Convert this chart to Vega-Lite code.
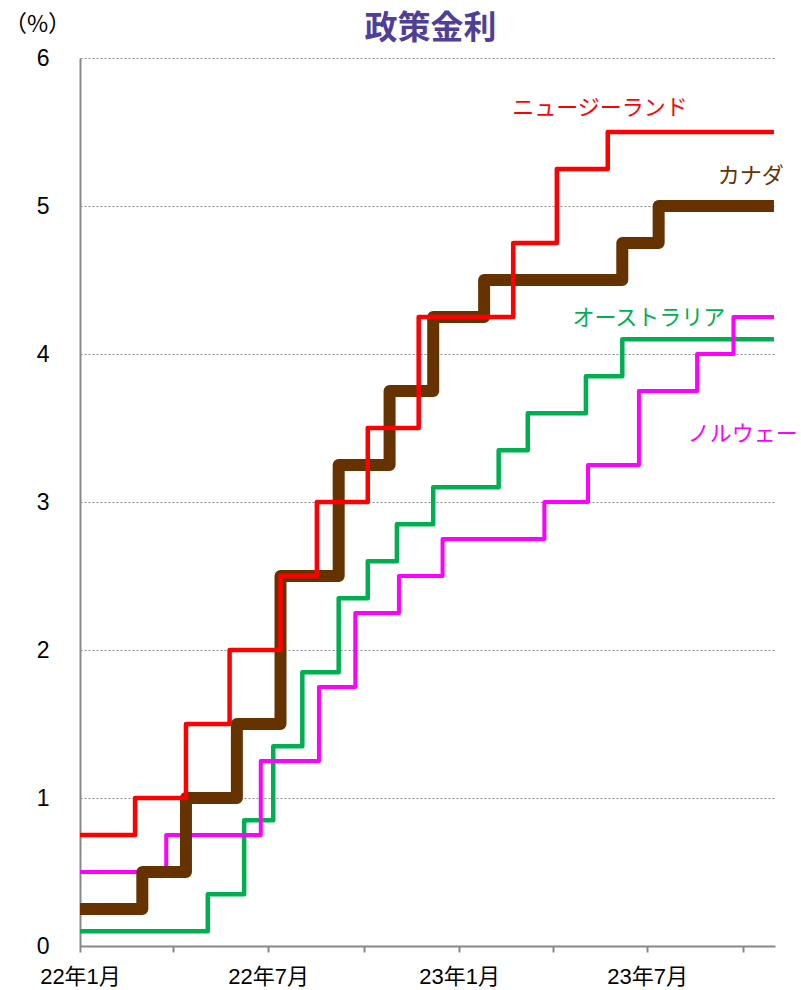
{
  "$schema": "https://vega.github.io/schema/vega-lite/v6.json",
  "width": 695,
  "height": 888,
  "autosize": "none",
  "padding": {"left": 80, "top": 58, "right": 26, "bottom": 44},
  "background": "white",
  "config": {"view": {"stroke": null}, "font": "Liberation Sans, Noto Sans CJK JP"},
  "title": {"text": "政策金利", "orient": "top", "anchor": "middle", "frame": "group", "offset": -33, "dx": 3, "fontSize": 33, "fontWeight": "bold", "color": "#4F3F9B", "font": "Noto Sans CJK JP"},
  "datasets": {
    "rates": [
      {"country": "ニュージーランド", "date": "2022-01-01", "rate": 0.75},
      {"country": "ニュージーランド", "date": "2022-02-23", "rate": 1.0},
      {"country": "ニュージーランド", "date": "2022-04-13", "rate": 1.5},
      {"country": "ニュージーランド", "date": "2022-05-25", "rate": 2.0},
      {"country": "ニュージーランド", "date": "2022-07-13", "rate": 2.5},
      {"country": "ニュージーランド", "date": "2022-08-17", "rate": 3.0},
      {"country": "ニュージーランド", "date": "2022-10-05", "rate": 3.5},
      {"country": "ニュージーランド", "date": "2022-11-23", "rate": 4.25},
      {"country": "ニュージーランド", "date": "2023-02-22", "rate": 4.75},
      {"country": "ニュージーランド", "date": "2023-04-05", "rate": 5.25},
      {"country": "ニュージーランド", "date": "2023-05-24", "rate": 5.5},
      {"country": "ニュージーランド", "date": "2023-10-31", "rate": 5.5},
      {"country": "カナダ", "date": "2022-01-01", "rate": 0.25},
      {"country": "カナダ", "date": "2022-03-02", "rate": 0.5},
      {"country": "カナダ", "date": "2022-04-13", "rate": 1.0},
      {"country": "カナダ", "date": "2022-06-01", "rate": 1.5},
      {"country": "カナダ", "date": "2022-07-13", "rate": 2.5},
      {"country": "カナダ", "date": "2022-09-07", "rate": 3.25},
      {"country": "カナダ", "date": "2022-10-26", "rate": 3.75},
      {"country": "カナダ", "date": "2022-12-07", "rate": 4.25},
      {"country": "カナダ", "date": "2023-01-25", "rate": 4.5},
      {"country": "カナダ", "date": "2023-06-07", "rate": 4.75},
      {"country": "カナダ", "date": "2023-07-12", "rate": 5.0},
      {"country": "カナダ", "date": "2023-10-31", "rate": 5.0},
      {"country": "オーストラリア", "date": "2022-01-01", "rate": 0.1},
      {"country": "オーストラリア", "date": "2022-05-04", "rate": 0.35},
      {"country": "オーストラリア", "date": "2022-06-08", "rate": 0.85},
      {"country": "オーストラリア", "date": "2022-07-06", "rate": 1.35},
      {"country": "オーストラリア", "date": "2022-08-03", "rate": 1.85},
      {"country": "オーストラリア", "date": "2022-09-07", "rate": 2.35},
      {"country": "オーストラリア", "date": "2022-10-05", "rate": 2.6},
      {"country": "オーストラリア", "date": "2022-11-02", "rate": 2.85},
      {"country": "オーストラリア", "date": "2022-12-07", "rate": 3.1},
      {"country": "オーストラリア", "date": "2023-02-08", "rate": 3.35},
      {"country": "オーストラリア", "date": "2023-03-08", "rate": 3.6},
      {"country": "オーストラリア", "date": "2023-05-03", "rate": 3.85},
      {"country": "オーストラリア", "date": "2023-06-07", "rate": 4.1},
      {"country": "オーストラリア", "date": "2023-10-31", "rate": 4.1},
      {"country": "ノルウェー", "date": "2022-01-01", "rate": 0.5},
      {"country": "ノルウェー", "date": "2022-03-25", "rate": 0.75},
      {"country": "ノルウェー", "date": "2022-06-24", "rate": 1.25},
      {"country": "ノルウェー", "date": "2022-08-19", "rate": 1.75},
      {"country": "ノルウェー", "date": "2022-09-23", "rate": 2.25},
      {"country": "ノルウェー", "date": "2022-11-04", "rate": 2.5},
      {"country": "ノルウェー", "date": "2022-12-16", "rate": 2.75},
      {"country": "ノルウェー", "date": "2023-03-24", "rate": 3.0},
      {"country": "ノルウェー", "date": "2023-05-05", "rate": 3.25},
      {"country": "ノルウェー", "date": "2023-06-23", "rate": 3.75},
      {"country": "ノルウェー", "date": "2023-08-18", "rate": 4.0},
      {"country": "ノルウェー", "date": "2023-09-22", "rate": 4.25},
      {"country": "ノルウェー", "date": "2023-10-31", "rate": 4.25}
    ],
    "labels": [
      {"country": "ニュージーランド", "date": "2023-02-21", "rate": 5.66},
      {"country": "カナダ", "date": "2023-09-07", "rate": 5.2},
      {"country": "オーストラリア", "date": "2023-04-20", "rate": 4.24},
      {"country": "ノルウェー", "date": "2023-08-09", "rate": 3.46}
    ]
  },
  "encoding": {
    "x": {
      "field": "date", "type": "temporal",
      "scale": {"type": "utc", "domain": ["2022-01-01", "2023-11-01"], "nice": false},
      "axis": {
        "title": null,
        "values": [
          {"year": 2022, "month": 1, "date": 1, "utc": true},
          {"year": 2022, "month": 4, "date": 1, "utc": true},
          {"year": 2022, "month": 7, "date": 1, "utc": true},
          {"year": 2022, "month": 10, "date": 1, "utc": true},
          {"year": 2023, "month": 1, "date": 1, "utc": true},
          {"year": 2023, "month": 4, "date": 1, "utc": true},
          {"year": 2023, "month": 7, "date": 1, "utc": true},
          {"year": 2023, "month": 10, "date": 1, "utc": true}
        ],
        "labelExpr": "(utcmonth(datum.value) == 0 || utcmonth(datum.value) == 6) ? utcFormat(datum.value, '%y年%-m月') : ''",
        "labelFont": "Liberation Sans, Noto Sans CJK JP",
        "labelFontSize": 22,
        "labelColor": "#000000",
        "labelBaseline": "top",
        "labelAlign": "center",
        "labelPadding": 14,
        "labelFlush": false,
        "labelOverlap": false,
        "grid": false,
        "domainColor": "#888888",
        "domainWidth": 2,
        "tickColor": "#888888",
        "tickWidth": 2,
        "tickSize": 6
      }
    },
    "y": {
      "field": "rate", "type": "quantitative",
      "scale": {"domain": [0, 6], "nice": false, "zero": true},
      "axis": {
        "title": "（%）",
        "titleAngle": 0,
        "titleFont": "Noto Sans CJK JP",
        "titleFontSize": 23,
        "titleFontWeight": "normal",
        "titleColor": "#000000",
        "titleX": -43,
        "titleY": -34,
        "titleAlign": "center",
        "titleBaseline": "middle",
        "values": [0, 1, 2, 3, 4, 5, 6],
        "labelFont": "Liberation Sans",
        "labelFontSize": 23,
        "labelColor": "#000000",
        "labelPadding": 31,
        "tickSize": 0,
        "domainColor": "#888888",
        "domainWidth": 2,
        "grid": true,
        "gridColor": "#8c8c8c",
        "gridDash": [2, 2],
        "gridWidth": 1.2
      }
    },
    "color": {
      "field": "country", "type": "nominal", "legend": null,
      "scale": {"domain": ["ニュージーランド", "カナダ", "オーストラリア", "ノルウェー"], "range": ["#FF0000", "#663300", "#00B050", "#FF00FF"]}
    }
  },
  "layer": [
    {
      "data": {"name": "rates"},
      "transform": [{"filter": "datum.country == 'オーストラリア'"}],
      "mark": {"type": "line", "interpolate": "step-after", "strokeWidth": 4.5, "strokeJoin": "round", "strokeCap": "butt"}
    },
    {
      "data": {"name": "rates"},
      "transform": [{"filter": "datum.country == 'ノルウェー'"}],
      "mark": {"type": "line", "interpolate": "step-after", "strokeWidth": 4, "strokeJoin": "round", "strokeCap": "butt"}
    },
    {
      "data": {"name": "rates"},
      "transform": [{"filter": "datum.country == 'カナダ'"}],
      "mark": {"type": "line", "interpolate": "step-after", "strokeWidth": 12, "strokeJoin": "round", "strokeCap": "butt"}
    },
    {
      "data": {"name": "rates"},
      "transform": [{"filter": "datum.country == 'ニュージーランド'"}],
      "mark": {"type": "line", "interpolate": "step-after", "strokeWidth": 4.5, "strokeJoin": "round", "strokeCap": "butt"}
    },
    {
      "data": {"name": "labels"},
      "mark": {"type": "text", "align": "left", "baseline": "middle", "font": "Noto Sans CJK JP", "fontSize": 22},
      "encoding": {"text": {"field": "country"}}
    }
  ]
}
